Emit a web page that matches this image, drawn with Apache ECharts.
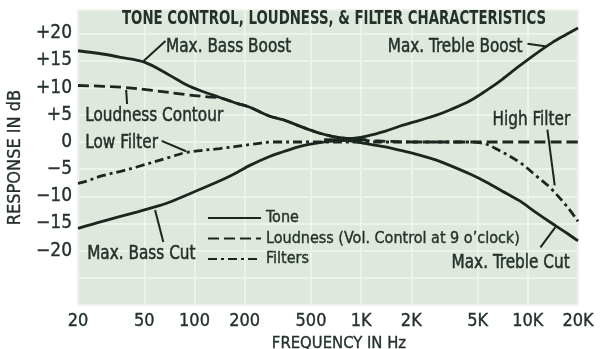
<!DOCTYPE html>
<html>
<head>
<meta charset="utf-8">
<script src="https://cdn.jsdelivr.net/npm/echarts@6/dist/echarts.min.js"></script>
<style>
  html, body { margin: 0; padding: 0; background: #ffffff; }
  #chart { width: 600px; height: 349px; }
</style>
</head>
<body>
<div id="chart"></div>
<script>
// Axis ticks
const freqTicks = [20, 50, 100, 200, 500, 1000, 2000, 5000, 10000, 20000];
const dbTicks = [-20, -15, -10, -5, 0, 5, 10, 15, 20];

// Tone control curves: [frequency Hz, response dB]
const bassBoost = [[20, 16.8], [28, 16.2], [36, 15.6], [50, 14.7], [70, 12.4], [90, 10.5], [112, 9.3], [142, 8.2], [180, 7.1], [215, 6.4], [280, 4.8], [340, 4.1], [430, 2.9], [540, 1.8], [680, 1.0], [850, 0.6], [1080, 0.4]];
const bassCut = [[20, -15.9], [28, -14.6], [45, -12.9], [60, -11.8], [72, -11.0], [112, -8.5], [150, -6.8], [180, -5.6], [215, -4.3], [280, -2.7], [340, -1.8], [430, -0.8], [540, -0.2], [700, 0.2], [1000, 0.4]];
const trebleBoost = [[600, 0.4], [800, 0.5], [1080, 1.1], [1400, 2.0], [1700, 2.9], [2240, 4.0], [2800, 4.9], [3400, 5.9], [4500, 7.6], [5650, 9.5], [7000, 11.5], [8900, 14.0], [11000, 16.1], [14000, 18.3], [17000, 19.8], [20000, 21.0]];
const trebleCut = [[600, 0.4], [800, 0.3], [1080, -0.3], [1400, -0.9], [1700, -1.5], [2240, -2.4], [2800, -3.3], [3400, -4.3], [4500, -5.9], [5650, -7.4], [7000, -9.0], [8900, -10.8], [11000, -12.8], [14000, -15.0], [17000, -16.7], [20000, -18.2]];

// Loudness contour at 9 o'clock volume
const loudness = [[20, 10.4], [36, 10.1], [56, 9.5], [90, 8.7], [120, 8.3], [145, 8.1], [180, 7.1], [215, 6.4], [280, 4.8], [340, 4.1], [430, 2.9], [540, 1.8], [680, 1.0], [850, 0.6], [1080, 0.3], [1500, 0.1], [2000, 0], [5000, 0], [10000, 0], [20000, 0]];

// Low and high filters
const filters = [[20, -7.6], [22, -7.3], [28, -6.2], [36, -5.4], [45, -4.6], [71, -2.8], [90, -1.9], [142, -1.2], [224, -0.4], [290, 0], [1000, 0], [3000, 0], [4500, 0], [5500, -0.3], [6500, -1.3], [8900, -3.7], [11200, -6.2], [13500, -8.3], [17000, -11.7], [20000, -14.6]];

const titleText = 'TONE CONTROL, LOUDNESS, & FILTER CHARACTERISTICS';
const loudnessName = 'Loudness (Vol. Control at 9 o\u2019clock)';

const ink = '#1c2621';
const textInk = '#24312b';
const font = "'DejaVu Sans Condensed', 'DejaVu Sans', sans-serif";
const heavy = { textBorderColor: textInk, textBorderWidth: 0.35 };

const solidStyle = { color: ink, width: 2.8, type: 'solid' };
const dashStyle = { color: ink, width: 2.8, type: [11, 5] };
const dashDotStyle = { color: ink, width: 2.8, type: [9, 4, 3, 4] };

function curve(name, data, lineStyle) {
  return {
    name: name, type: 'line', data: data, smooth: 0.35,
    symbol: 'none', lineStyle: lineStyle, itemStyle: { color: ink },
    silent: true, z: 3
  };
}

// Callout texts anchored at their left edge, middle height (frequency, dB)
const notes = [
  { at: [67.5, 17.6], text: 'Max. Bass Boost' },
  { at: [1443, 17.6], text: 'Max. Treble Boost' },
  { at: [22.1, 4.8], text: 'Loudness Contour' },
  { at: [22.1, -0.1], text: 'Low Filter' },
  { at: [6137, 4.1], text: 'High Filter' },
  { at: [22.7, -20.6], text: 'Max. Bass Cut' },
  { at: [3486, -22.2], text: 'Max. Treble Cut' }
];

// Callout arrows: [from, to, curveness]
const pointers = [
  [[67, 18.6], [49.5, 14.9], 0.15],
  [[9950, 18.1], [13000, 17.6], -0.2],
  [[39.4, 7.0], [38.9, 9.6], 0],
  [[63.5, 0.2], [89, -1.7], -0.15],
  [[13100, 2.3], [14500, -8.0], -0.3],
  [[65, -18.4], [58, -12.5], 0.25],
  [[11900, -19.4], [14600, -15.7], 0.1]
];

const chart = echarts.init(document.getElementById('chart'), null, { renderer: 'canvas' });

chart.setOption({
  animation: false,
  backgroundColor: '#ffffff',
  grid: {
    left: 78, right: 22, top: 10, bottom: 44,
    outerBoundsMode: 'none', containLabel: false,
    show: true, backgroundColor: '#dfe8dc', borderWidth: 0
  },
  legend: {
    data: ['Tone', loudnessName, 'Filters'],
    orient: 'vertical', left: 207, top: 208, padding: 0,
    itemWidth: 53, itemHeight: 14, itemGap: 0.5,
    itemStyle: { color: 'transparent', borderWidth: 0, opacity: 0 },
    textStyle: Object.assign({ fontFamily: font, fontSize: 16, color: textInk, lineHeight: 20 }, heavy),
    selectedMode: false
  },
  xAxis: {
    type: 'log', logBase: 10, min: 20, max: 20000,
    name: 'FREQUENCY IN Hz', nameLocation: 'middle', nameGap: 21,
    nameTextStyle: Object.assign({ fontFamily: font, fontSize: 16.5, color: textInk, padding: [0, 0, 0, 22] }, heavy),
    axisLine: { show: false },
    axisTick: { show: false, customValues: freqTicks },
    axisLabel: Object.assign({
      customValues: freqTicks, margin: 7,
      fontFamily: font, fontSize: 18, color: textInk,
      formatter: v => v >= 1000 ? (v / 1000) + 'K' : String(v)
    }, heavy),
    splitLine: { show: true, lineStyle: { color: '#edf2eb', width: 2 } }
  },
  yAxis: {
    type: 'value', min: -30, max: 24.3, interval: 5,
    name: 'RESPONSE IN dB', nameLocation: 'middle', nameGap: 50, nameRotate: 90,
    nameTextStyle: Object.assign({ fontFamily: font, fontSize: 18, color: textInk }, heavy),
    axisLine: { show: false },
    axisTick: { show: false },
    axisLabel: Object.assign({
      customValues: dbTicks, margin: 6,
      fontFamily: font, fontSize: 19, color: textInk,
      formatter: v => v > 0 ? '+' + v : (v < 0 ? '\u2212' + Math.abs(v) : '0')
    }, heavy),
    splitLine: { show: true, lineStyle: { color: '#edf2eb', width: 2 } }
  },
  series: [
    curve('Filters', filters, dashDotStyle),
    curve(loudnessName, loudness, dashStyle),
    curve('Tone', bassBoost, solidStyle),
    curve('Tone', bassCut, solidStyle),
    curve('Tone', trebleBoost, solidStyle),
    curve('Tone', trebleCut, solidStyle),
    {
      name: 'pointers', type: 'line', data: [], silent: true, z: 5,
      markLine: {
        silent: true, animation: false,
        symbol: ['none', 'arrow'], symbolSize: [0, 9],
        label: { show: false },
        lineStyle: { color: ink, width: 2, type: 'solid' },
        data: pointers.map(p => [
          { coord: p[0], lineStyle: { curveness: p[2] } },
          { coord: p[1] }
        ])
      }
    }
  ]
});

// Title and callouts are set in a condensed face, placed from the axis scales
const texts = [{
  type: 'text', x: 122, y: 19, scaleX: 0.78, originX: 0, z: 10, silent: true,
  style: {
    text: titleText, fontFamily: font, fontSize: 19, fontWeight: 'bold',
    fill: textInk, align: 'left', verticalAlign: 'middle'
  }
}];
notes.forEach(n => {
  const p = chart.convertToPixel({ gridIndex: 0 }, n.at);
  texts.push({
    type: 'text', x: p[0], y: p[1], scaleX: 0.85, originX: 0, z: 10, silent: true,
    style: {
      text: n.text, fontFamily: font, fontSize: 20,
      fill: textInk, stroke: textInk, lineWidth: 0.5,
      align: 'left', verticalAlign: 'middle'
    }
  });
});
chart.setOption({ graphic: texts });
</script>
</body>
</html>
